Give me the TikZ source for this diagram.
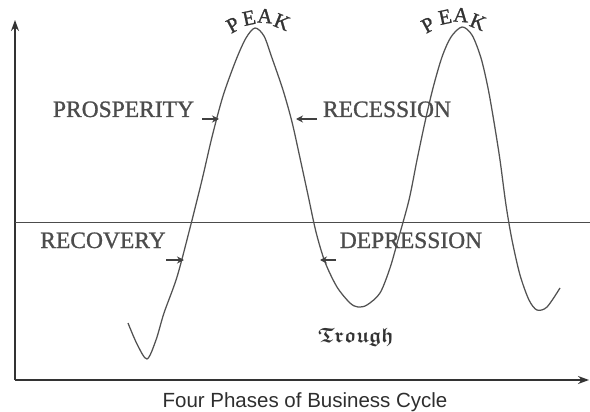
\documentclass[tikz,border=0pt]{standalone}
\usepackage{fontspec}
\setmainfont{Liberation Serif}
\newfontfamily\labelfont[FakeBold=1]{Liberation Serif}
\newfontfamily\capfont{Liberation Sans}
\usetikzlibrary{arrows.meta}
\begin{document}
\begin{tikzpicture}[x=1pt,y=-1pt,
  axisline/.style={draw=black!80, line width=1.3pt},
  midline/.style={draw=black!70, line width=0.9pt},
  wave/.style={draw=black!68, line width=1.25pt, line join=round},
  phase/.style={font={\labelfont\fontsize{23.5}{24}\selectfont}, text=black!70, anchor=base, inner sep=0pt},
  peakletter/.style={font={\labelfont\fontsize{21}{21}\selectfont}, text=black!80, inner sep=0pt},
  troughword/.style={font={\fontsize{20.74}{21}\usefont{U}{euf}{b}{n}}, text=black!80, inner sep=0pt, anchor=base},
  marker/.style={-{Stealth[length=7pt,width=7pt]}, line width=1.2pt, draw=black!75},
]
\fill[white] (0,0) rectangle (590,412);
\useasboundingbox (0,0) rectangle (590,412);

% axes
\coordinate (O) at (15,380);
\coordinate (ytip) at (15,20);
\coordinate (xtip) at (589,380);
\draw[axisline,-{Stealth[length=11pt,width=8pt]}] (O) -- (ytip);
\draw[axisline,-{Stealth[length=11pt,width=8pt]}] (O) -- (xtip);
\coordinate (mL) at (15,222);
\coordinate (mR) at (590,222);
\draw[midline] (mL) -- (mR);

% business cycle wave
\draw[wave] plot[smooth, tension=0.5] coordinates {
 (128,323) (137,344) (147,359) (156,340) (164,313) (177,277) (190,228)
 (202,180) (212,137) (223,96) (236,60) (246,38) (255,28) (264,36)
 (272,58) (283,90) (292,122) (300,158) (308,195) (316,232) (325,262)
 (337,287) (350,303) (358,307) (367,305) (380,293) (390,268) (398,240)
 (409,200) (417,160) (425,122) (433,88) (442,57) (451,37) (462,27)
 (472,35) (481,58) (488,88) (494,122) (500,160) (506,205) (512,240)
 (520,275) (529,300) (537,310) (547,307) (560,288)};

% phase labels
\node[phase] (prosp) at (123.5,117) {PROSPERITY};
\node[phase] (reces) at (387,117) {RECESSION};
\node[phase] (recov) at (103,248) {RECOVERY};
\node[phase] (depr) at (411,248) {DEPRESSION};

% phase markers
\coordinate (pa) at (202,119); \coordinate (pb) at (219,119);
\draw[marker] (pa) -- (pb);
\coordinate (ra) at (317,119); \coordinate (rb) at (296,119);
\draw[marker] (ra) -- (rb);
\coordinate (va) at (166,260); \coordinate (vb) at (184,260);
\draw[marker] (va) -- (vb);
\coordinate (da) at (336,260); \coordinate (db) at (320,260);
\draw[marker] (da) -- (db);

% PEAK (first)
\node[peakletter, rotate=28] (p1P) at (233,25) {P};
\node[peakletter, rotate=12] (p1E) at (249,18) {E};
\node[peakletter, rotate=-4] (p1A) at (265,16) {A};
\node[peakletter, rotate=-22] (p1K) at (282,22) {K};
% PEAK (second)
\node[peakletter, rotate=28] (p2P) at (428,25) {P};
\node[peakletter, rotate=12] (p2E) at (445,17) {E};
\node[peakletter, rotate=-4] (p2A) at (461,15) {A};
\node[peakletter, rotate=-22] (p2K) at (478,22) {K};

% Trough
\node[troughword] (trough) at (356,342) {Trough};

% caption
\node[font={\capfont\fontsize{20.5}{21}\selectfont}, anchor=base, text=black!82, inner sep=0pt] (cap) at (305,407) {Four Phases of Business Cycle};
\end{tikzpicture}
\end{document}
